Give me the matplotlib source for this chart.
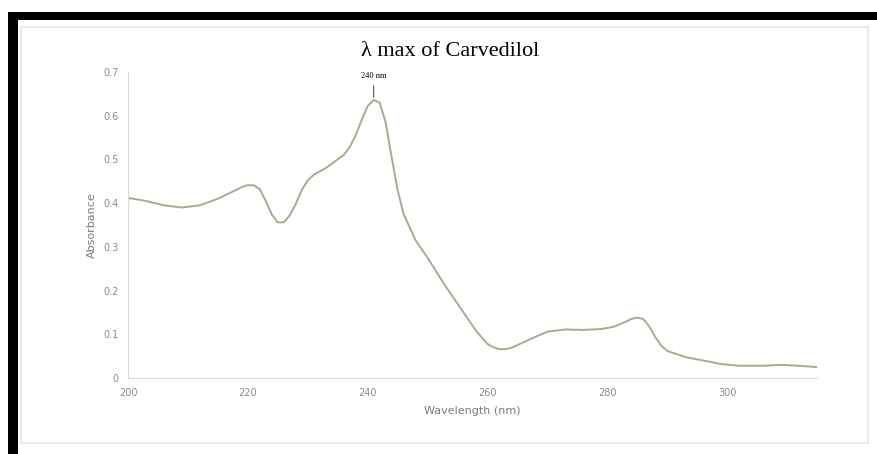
import numpy as np
from matplotlib import pyplot as plt
from matplotlib.patches import Rectangle

# spectrum
wavelength = [200, 203, 206, 209, 212, 215, 218, 219, 220, 221, 222, 223, 224, 225, 226,
              227, 228, 229, 230, 231, 233, 236, 237, 238, 239, 240, 241, 242, 243, 244,
              245, 246, 248, 250, 253, 256, 258, 259, 260, 261, 262, 263, 264, 267, 270,
              273, 276, 279, 281, 283, 284, 285, 286, 287, 288, 289, 290, 293, 296, 299,
              302, 306, 309, 312, 315]
absorbance = [0.412, 0.405, 0.395, 0.39, 0.395, 0.41, 0.43, 0.437, 0.441, 0.441, 0.432,
              0.405, 0.374, 0.356, 0.356, 0.372, 0.398, 0.43, 0.452, 0.465, 0.48, 0.51,
              0.528, 0.555, 0.59, 0.622, 0.636, 0.63, 0.585, 0.505, 0.43, 0.375, 0.315,
              0.275, 0.21, 0.15, 0.11, 0.093, 0.078, 0.07, 0.066, 0.066, 0.069, 0.088,
              0.106, 0.111, 0.11, 0.112, 0.117, 0.128, 0.135, 0.138, 0.135, 0.118, 0.094,
              0.074, 0.062, 0.048, 0.04, 0.032, 0.028, 0.028, 0.03, 0.028, 0.025]
x_ticks = [200, 220, 240, 260, 280, 300]
y_ticks = [0, 0.1, 0.2, 0.3, 0.4, 0.5, 0.6, 0.7]
peak_label = "240 nm"

fig = plt.figure(figsize=(8.77, 4.54), dpi=100)

# black frame (top and left) and light inner box
fig.patches.append(Rectangle((8/877, 1 - 20/454), 1, 8/454, transform=fig.transFigure,
                             facecolor='black', edgecolor='none'))
fig.patches.append(Rectangle((8/877, 0), 10/877, 1 - 12/454, transform=fig.transFigure,
                             facecolor='black', edgecolor='none'))
fig.patches.append(Rectangle((21/877, 1 - 443/454), 847/877, 416/454, transform=fig.transFigure,
                             facecolor='none', edgecolor='#e6e6e6', linewidth=1.2))

ax = fig.add_axes([128/877, 1 - 378/454, 689/877, 306/454])
ax.plot(wavelength, absorbance, color='#a9ab91', linewidth=1.4, solid_joinstyle='round')

ax.set_xlim(200, 315)
ax.set_ylim(0, 0.7)
ax.set_xticks(x_ticks)
ax.set_yticks(y_ticks)
ax.set_yticklabels(['0', '0.1', '0.2', '0.3', '0.4', '0.5', '0.6', '0.7'])
ax.tick_params(length=0, labelsize=7, colors='#8a8a8a', pad=7)

for side in ['top', 'right']:
    ax.spines[side].set_visible(False)
for side in ['left', 'bottom']:
    ax.spines[side].set_color('#d9d9d9')

ax.set_xlabel('Wavelength (nm)', fontsize=8, color='#7a7a7a', labelpad=6)
ax.set_ylabel('Absorbance', fontsize=8, color='#7a7a7a', labelpad=4)

# peak marker
i_max = int(np.argmax(absorbance))
ax.annotate(peak_label, xy=(wavelength[i_max], absorbance[i_max]),
            xytext=(wavelength[i_max], absorbance[i_max] + 0.045),
            ha='center', va='bottom', fontsize=6, family='Liberation Serif',
            arrowprops=dict(arrowstyle='-', color='#555555', linewidth=0.8))

fig.text(450/877, 1 - 52/454, 'λ max of Carvedilol', ha='center', va='center',
         fontsize=16, family='Liberation Serif')

fig.savefig('out.png')
